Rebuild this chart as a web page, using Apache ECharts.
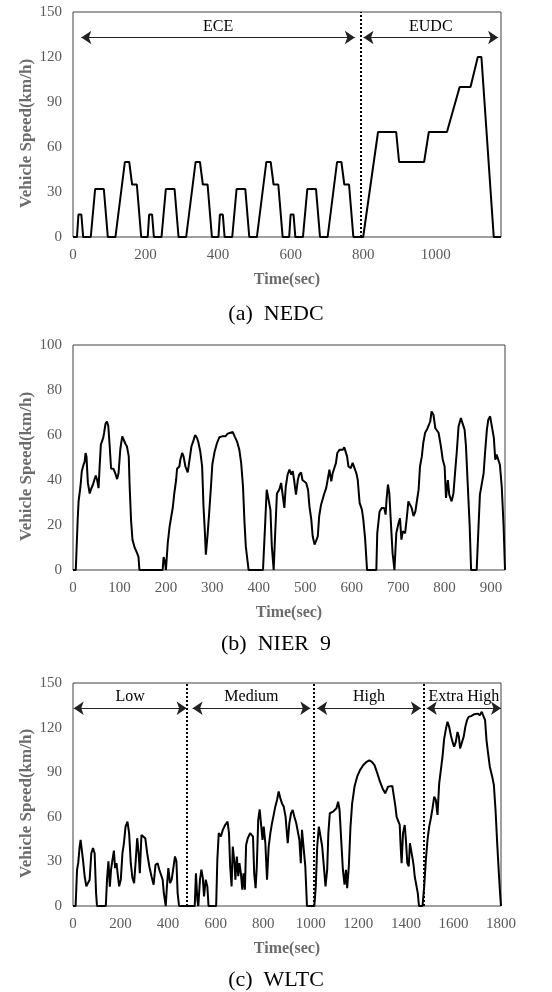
<!DOCTYPE html>
<html>
<head>
<meta charset="utf-8">
<script src="https://cdn.jsdelivr.net/npm/echarts@6/dist/echarts.min.js"></script>
<style>
  html, body { margin: 0; padding: 0; background: #fff; }
  #main { width: 552px; height: 992px; }
</style>
</head>
<body>
<div id="main"></div>
<script>
// (a) NEDC - key points of the cycle
var nedcTime = [
  0, 11, 15, 23, 28, 49, 61, 85, 96, 117, 143, 155, 163, 176, 188,
  195, 206, 210, 218, 223, 244, 256, 280, 291, 312, 338, 350, 358, 371, 383,
  390, 401, 405, 413, 418, 439, 451, 475, 486, 507, 533, 545, 553, 566, 578,
  585, 596, 600, 608, 613, 634, 646, 670, 681, 702, 728, 740, 748, 761, 773,
  800, 841, 891, 899, 968, 981, 1031, 1066, 1096, 1116, 1126, 1160, 1180
];
var nedcSpeed = [
  0, 0, 15, 15, 0, 0, 32, 32, 0, 0, 50, 50, 35, 35, 0,
  0, 0, 15, 15, 0, 0, 32, 32, 0, 0, 50, 50, 35, 35, 0,
  0, 0, 15, 15, 0, 0, 32, 32, 0, 0, 50, 50, 35, 35, 0,
  0, 0, 15, 15, 0, 0, 32, 32, 0, 0, 50, 50, 35, 35, 0,
  0, 70, 70, 50, 50, 70, 70, 100, 100, 120, 120, 0, 0
];
var nedcPhaseNames = ["ECE", "EUDC"];
var nedcPhaseFrom = [23, 801];
var nedcPhaseTo = [777, 1172];
var nedcBreaks = [794];

// (b) NIER 9
var nierTime = [
  0, 6, 10, 12, 16, 19, 23, 25, 27, 29,
  32, 36, 39, 43, 47, 49, 52, 55, 57, 60,
  65, 67, 70, 73, 76, 79, 82, 87, 91, 95,
  98, 102, 106, 109, 113, 116, 120, 122, 125, 128,
  133, 138, 141, 143, 193, 195, 198, 200, 204, 208,
  211, 215, 218, 222, 224, 229, 231, 235, 238, 242,
  247, 251, 255, 258, 263, 267, 270, 274, 278, 281,
  284, 286, 290, 293, 297, 300, 305, 310, 315, 321,
  328, 333, 339, 344, 348, 353, 358, 362, 366, 369,
  372, 375, 378, 409, 414, 417, 421, 425, 428, 432,
  435, 439, 444, 448, 451, 455, 458, 462, 466, 470,
  473, 476, 480, 484, 487, 491, 494, 498, 502, 506,
  509, 513, 516, 520, 523, 527, 530, 534, 538, 541,
  545, 549, 552, 556, 559, 563, 566, 569, 574, 577,
  581, 584, 590, 593, 598, 602, 606, 610, 613, 617,
  622, 625, 629, 633, 653, 655, 660, 665, 670, 673,
  675, 678, 681, 684, 688, 692, 696, 701, 704, 707,
  710, 715, 719, 722, 726, 729, 733, 737, 740, 744,
  747, 751, 754, 758, 762, 765, 769, 772, 776, 780,
  783, 787, 792, 796, 800, 803, 807, 810, 815, 819,
  823, 826, 830, 835, 839, 843, 846, 850, 854, 857,
  869, 873, 876, 880, 884, 887, 891, 894, 898, 902,
  906, 909, 912, 916, 919, 923, 927, 930
];
var nierSpeed = [
  0, 0, 22, 30.5, 37, 44, 47, 48, 52, 50.5,
  38.7, 34, 36, 38, 38.7, 42, 40, 36.4, 44.6, 55.7,
  58.7, 61, 65, 66, 64, 55, 45, 45, 43, 40.4,
  43, 54, 59.4, 58, 56, 55, 50.5, 37, 22, 13.5,
  9.8, 7.5, 5.8, 0, 0, 5.8, 3.8, 0, 12, 19.4,
  20, 28, 34, 40, 45, 46, 49, 52, 50.5, 46,
  43.4, 43.4, 55, 56.7, 60, 58.7, 56.7, 52.7, 46, 28,
  16.4, 6.8, 16.4, 25, 37, 47, 52.7, 56.4, 59, 59.4,
  59.4, 60.6, 61, 61.3, 59.4, 57.2, 53.5, 47.6, 37, 22,
  10.5, 9.8, 0, 0, 22, 35.7, 36.4, 26.8, 10.5, 0,
  15, 34, 35.7, 38.7, 34, 27.6, 37, 42.4, 44.6, 42.4,
  44, 40, 33.5, 40, 42.4, 43.4, 40, 40, 38.7, 35.7,
  28.3, 22.4, 15, 11.3, 12.7, 15, 24, 29, 29, 34,
  36.4, 41, 44.6, 39.4, 43, 43, 47.5, 52, 53.5, 52.7,
  53.5, 54.5, 50.5, 46, 45.3, 47.6, 45.3, 43, 40, 29.8,
  26.8, 22.4, 13.5, 0, 0, 16.4, 26, 27.6, 27.6, 24.6,
  31.3, 38, 34, 22.4, 7.5, 0, 16.4, 21, 23, 13.5,
  17.2, 16.4, 24, 30.5, 31.3, 27.6, 24, 26, 26.5, 35.7,
  46, 50.5, 56.4, 61, 62.4, 61.6, 66, 70.5, 69, 63,
  63.7, 61, 55, 49, 46, 32, 40, 33.5, 30.5, 34,
  44.6, 52, 63.8, 67.5, 66.8, 62.4, 55, 37, 19.4, 0,
  0, 19.4, 33.5, 34, 43, 52, 62.4, 66.8, 68.3, 67.5,
  58.7, 49, 51.3, 50.5, 46.8, 37, 19.4, 0
];

// (c) WLTC
var wltcTime = [
  0, 11, 17, 22, 28, 32, 37, 42, 49, 56,
  63, 70, 77, 84, 91, 97, 101, 138, 143, 149,
  155, 160, 166, 172, 177, 183, 189, 194, 201, 208,
  214, 221, 229, 236, 243, 250, 257, 264, 270, 276,
  281, 288, 295, 304, 312, 321, 330, 339, 347, 356,
  363, 371, 377, 382, 390, 395, 401, 408, 415, 422,
  429, 435, 440, 446, 512, 517, 523, 527, 534, 540,
  546, 551, 558, 565, 570, 602, 607, 613, 622, 630,
  640, 650, 656, 661, 667, 672, 679, 683, 689, 695,
  700, 706, 712, 717, 723, 728, 735, 745, 752, 757,
  762, 768, 773, 779, 785, 792, 797, 802, 809, 816,
  823, 830, 837, 844, 851, 858, 865, 872, 879, 886,
  894, 903, 910, 917, 924, 931, 939, 946, 952, 958,
  963, 970, 977, 984, 1015, 1021, 1027, 1034, 1041, 1048,
  1055, 1062, 1069, 1074, 1080, 1087, 1094, 1101, 1108, 1115,
  1121, 1128, 1135, 1142, 1148, 1153, 1160, 1167, 1174, 1184,
  1195, 1207, 1221, 1235, 1246, 1257, 1268, 1280, 1291, 1302,
  1313, 1319, 1325, 1333, 1343, 1350, 1356, 1361, 1368, 1374,
  1378, 1382, 1388, 1395, 1400, 1406, 1412, 1417, 1424, 1429,
  1433, 1437, 1444, 1450, 1455, 1470, 1477, 1484, 1491, 1498,
  1505, 1512, 1519, 1526, 1533, 1540, 1547, 1554, 1561, 1570,
  1575, 1582, 1589, 1596, 1603, 1610, 1617, 1623, 1628, 1636,
  1643, 1650, 1657, 1664, 1674, 1681, 1688, 1695, 1702, 1711,
  1719, 1726, 1733, 1739, 1744, 1753, 1763, 1770, 1777, 1784,
  1791, 1796, 1800
];
var wltcSpeed = [
  0, 0, 24.4, 29, 40, 44.5, 43.4, 31, 20, 13.2,
  12, 17.7, 35.5, 39, 35.5, 8.7, 0, 0, 17.7, 30,
  13, 24.4, 31, 37.3, 25.5, 28.8, 20, 13.2, 17.7, 35.5,
  42, 53.4, 56.8, 49, 28.8, 18.8, 15.4, 31, 45.6, 35.5,
  22, 47.8, 49, 45.6, 35.5, 26.6, 20, 14.3, 27.7, 28.8,
  24.4, 25.5, 17.7, 8.7, 0, 13.2, 25.5, 15.4, 17.7, 18.8,
  33.3, 30, 8.7, 0, 0, 22, 4.2, 0, 17.7, 24.4,
  18.8, 6.5, 17.7, 13.2, 0, 0, 31, 49, 46.7, 51.2,
  54.5, 56.8, 49, 26.6, 13.2, 40, 28.8, 17.7, 33.3, 20,
  28.8, 22, 11, 22, 11, 41, 45.6, 49, 50, 46.7,
  22, 12, 26.6, 58, 65, 65.7, 44.5, 53.4, 42.2, 17.7,
  40, 49, 55.7, 61.3, 67, 71.3, 77, 72.4, 69, 67,
  60, 42.2, 55.7, 62.4, 64.6, 60, 55.7, 54.5, 44.5, 28.8,
  51.2, 52.3, 26.6, 0, 0, 13.2, 40, 53.4, 52.3, 40,
  26.6, 13.2, 24.4, 49, 62.4, 61.3, 63.5, 62.4, 65.7, 70.2,
  64.6, 44.5, 24.4, 14.3, 24.4, 12, 26.6, 53.4, 69, 80.3,
  87, 91.4, 94.8, 97, 98, 97, 94.8, 89.2, 83.6, 79.1,
  75.8, 74.7, 80.3, 81.4, 80.7, 81.4, 66.8, 60, 60, 54.5,
  40, 28.8, 49, 54.5, 44.5, 28.8, 26.6, 42.2, 41, 31,
  26.6, 20, 18.8, 8.7, 0, 0, 13.2, 31, 44.5, 53.4,
  59, 65.7, 73.6, 71.3, 61.3, 82.5, 91.4, 100.4, 112.6, 120.5,
  123.9, 120.5, 114.9, 110.4, 107.1, 110.4, 117.1, 113.8, 106, 106,
  113.8, 120.5, 125, 127.2, 127.7, 128.3, 129, 127.7, 129.4, 128.3,
  130.6, 131.2, 125, 111.6, 104.9, 93.7, 87, 81.4, 64.6, 42.2,
  22, 8.7, 0
];
var wltcPhaseNames = ["Low", "Medium", "High", "Extra High"];
var wltcPhaseFrom = [3, 503, 1027, 1488];
var wltcPhaseTo = [478, 998, 1463, 1800];
var wltcBreaks = [480, 1012, 1474];

var captions = ["(a)  NEDC", "(b)  NIER  9", "(c)  WLTC"];

var SERIF = "'Liberation Serif', 'Times New Roman', serif";

function pairs(t, v) {
  return t.map(function (x, i) { return [x, v[i]]; });
}

// arrows + dotted separators for one panel
function phaseMarks(names, from, to, breaks, arrowY, yMax) {
  var data = [];
  breaks.forEach(function (b) {
    data.push([
      { coord: [b, 0], symbol: "none", lineStyle: { type: "dotted", width: 2, color: "#000" }, label: { show: false } },
      { coord: [b, yMax], symbol: "none" }
    ]);
  });
  names.forEach(function (n, i) {
    data.push([
      { name: n, coord: [from[i], arrowY], symbol: "arrow" },
      { coord: [to[i], arrowY], symbol: "arrow" }
    ]);
  });
  return {
    silent: true,
    animation: false,
    symbol: ["arrow", "arrow"],
    symbolSize: 10,
    lineStyle: { type: "solid", width: 1, color: "#222" },
    label: {
      show: true,
      position: "middle",
      distance: 3,
      formatter: "{b}",
      color: "#000",
      fontSize: 16,
      fontFamily: SERIF
    },
    data: data
  };
}

function xAxis(idx, max, step) {
  return {
    type: "value",
    gridIndex: idx,
    min: 0,
    max: max,
    interval: step,
    name: "Time(sec)",
    nameLocation: "middle",
    nameGap: 35,
    nameMoveOverlap: false,
    nameTextStyle: { fontFamily: SERIF, fontWeight: "bold", fontSize: 16, color: "#6b6b6b" },
    axisLine: { show: false },
    axisTick: { show: false },
    splitLine: { show: false },
    axisLabel: {
      margin: 11,
      fontFamily: SERIF,
      fontSize: 15,
      color: "#595959",
      formatter: function (v) { return v % step === 0 ? String(v) : ""; }
    }
  };
}

function yAxis(idx, max, step) {
  return {
    type: "value",
    gridIndex: idx,
    min: 0,
    max: max,
    interval: step,
    name: "Vehicle Speed(km/h)",
    nameLocation: "middle",
    nameGap: 38,
    nameMoveOverlap: false,
    nameTextStyle: {
      fontFamily: SERIF, fontWeight: "bold", fontSize: 17, color: "#6b6b6b",
      padding: [0, 18, 0, 0]
    },
    axisLine: { show: false },
    axisTick: { show: false },
    splitLine: { show: false },
    axisLabel: { margin: 11, fontFamily: SERIF, fontSize: 15, color: "#595959" }
  };
}

function speedSeries(idx, data, marks) {
  return {
    type: "line",
    xAxisIndex: idx,
    yAxisIndex: idx,
    data: data,
    showSymbol: false,
    symbol: "none",
    lineStyle: { color: "#000", width: 2 },
    markLine: marks
  };
}

var chart = echarts.init(document.getElementById("main"), null, { renderer: "canvas" });

var option = {
  animation: false,
  backgroundColor: "#fff",
  title: captions.map(function (c, i) {
    return {
      text: c,
      left: "center",
      top: [298, 628, 964][i],
      textStyle: { fontFamily: SERIF, fontSize: 22, fontWeight: "normal", color: "#000" }
    };
  }),
  grid: [
    { left: 73, top: 12, width: 428, height: 225, show: true, borderColor: "#404040", borderWidth: 1, containLabel: false },
    { left: 73, top: 345, width: 432, height: 225, show: true, borderColor: "#404040", borderWidth: 1, containLabel: false },
    { left: 73, top: 683, width: 428, height: 223, show: true, borderColor: "#404040", borderWidth: 1, containLabel: false }
  ],
  xAxis: [xAxis(0, 1180, 200), xAxis(1, 930, 100), xAxis(2, 1800, 200)],
  yAxis: [yAxis(0, 150, 30), yAxis(1, 100, 20), yAxis(2, 150, 30)],
  series: [
    speedSeries(0, pairs(nedcTime, nedcSpeed),
      phaseMarks(nedcPhaseNames, nedcPhaseFrom, nedcPhaseTo, nedcBreaks, 133, 150)),
    speedSeries(1, pairs(nierTime, nierSpeed), null),
    speedSeries(2, pairs(wltcTime, wltcSpeed),
      phaseMarks(wltcPhaseNames, wltcPhaseFrom, wltcPhaseTo, wltcBreaks, 133, 150))
  ]
};

chart.setOption(option);
</script>
</body>
</html>
